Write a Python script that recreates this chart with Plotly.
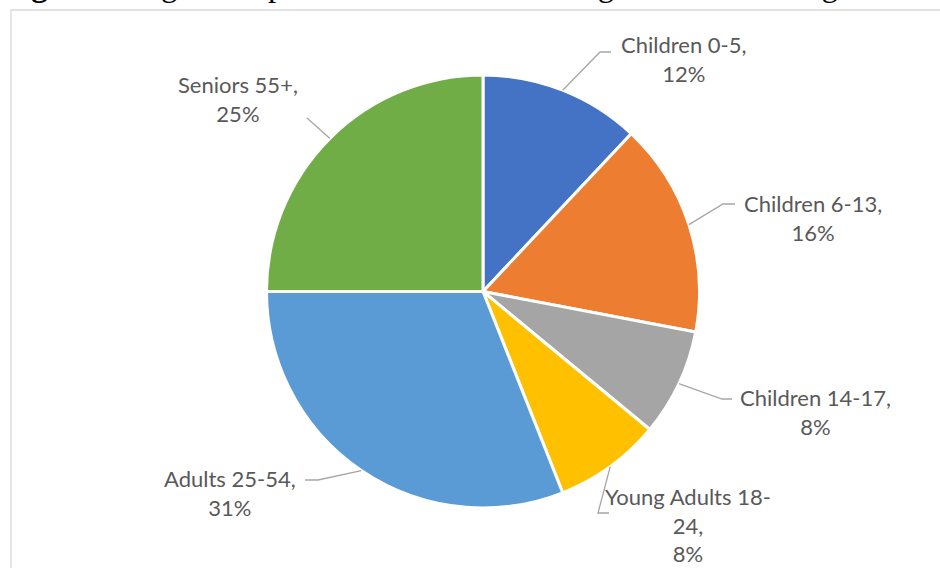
import math
import plotly.graph_objects as go

# ---- data ----
categories = ["Children 0-5", "Children 6-13", "Children 14-17",
              "Young Adults 18-24", "Adults 25-54", "Seniors 55+"]
shares = [12, 16, 8, 8, 31, 25]
label_texts = ["Children 0-5,<br>12%", "Children 6-13,<br>16%", "Children 14-17,<br>8%",
               "Young Adults 18-<br>24,<br>8%", "Adults 25-54,<br>31%", "Seniors 55+,<br>25%"]
title_bold = "Figure 6:"
title_rest = " Age Groups of FY 2020 CDBG eligible entities Program Participants"

# ---- style / layout ----
W, H = 940, 568
colors = ["#4472C4", "#ED7D31", "#A5A5A5", "#FFC000", "#5B9BD5", "#70AD47"]
CX, CY, R = 483.0, 291.5, 216.5  # pie centre/radius in pixels
# label centre positions (pixels) and leader-line elbow/end points (pixels)
label_pos = [(684, 59), (813, 218), (815, 412), (688, 525), (230, 493), (238, 99)]
elbows = [((600, 52), (611, 52)), ((723, 204), (735, 204)), ((722, 399), (732, 399)),
          ((598, 513), (609, 513)), ((318, 480), (305, 480)), ((307, 118), (307, 118))]
label_font = dict(family="Lato, Carlito, Calibri, sans-serif", size=22, color="#595959")
line_color = "#A6A6A6"


def px(x):
    return x / W


def py(y):
    return 1 - y / H


fig = go.Figure(go.Pie(
    labels=categories, values=shares, sort=False, direction="clockwise", rotation=0,
    marker=dict(colors=colors, line=dict(color="white", width=3)),
    textinfo="none", hoverinfo="label+percent", showlegend=False,
    domain=dict(x=[px(CX - R), px(CX + R)], y=[py(CY + R), py(CY - R)]),
))

shapes = [dict(type="rect", xref="paper", yref="paper", x0=px(11), y0=py(H + 20),
               x1=px(W + 20), y1=py(10), line=dict(color="#D9D9D9", width=1.3), layer="below")]
annotations = []
total = sum(shares)
cum = 0
for i, v in enumerate(shares):
    mid = (cum + v / 2) / total * 2 * math.pi
    cum += v
    sx = CX + R * math.sin(mid)
    sy = CY - R * math.cos(mid)
    (ex, ey), (fx, fy) = elbows[i]
    path = f"M {px(sx)} {py(sy)} L {px(ex)} {py(ey)} L {px(fx)} {py(fy)}"
    shapes.append(dict(type="path", xref="paper", yref="paper", path=path,
                       line=dict(color=line_color, width=1.3)))
    lx, ly = label_pos[i]
    annotations.append(dict(x=px(lx), y=py(ly), xref="paper", yref="paper",
                            text=label_texts[i], showarrow=False, align="center",
                            xanchor="center", yanchor="middle", font=label_font))

annotations.append(dict(x=0, y=py(5), xref="paper", yref="paper", xanchor="left",
                        yanchor="bottom", showarrow=False, align="left",
                        text=f"<b>{title_bold}</b>{title_rest}",
                        font=dict(family="Liberation Serif, Times New Roman, serif",
                                  size=33, color="#000000")))

fig.update_layout(width=W, height=H, margin=dict(l=0, r=0, t=0, b=0),
                  paper_bgcolor="white", plot_bgcolor="white",
                  shapes=shapes, annotations=annotations)

fig.write_html("out.html", config={"displayModeBar": False},
               post_script="document.body.style.margin='0';document.body.style.overflow='hidden';")
